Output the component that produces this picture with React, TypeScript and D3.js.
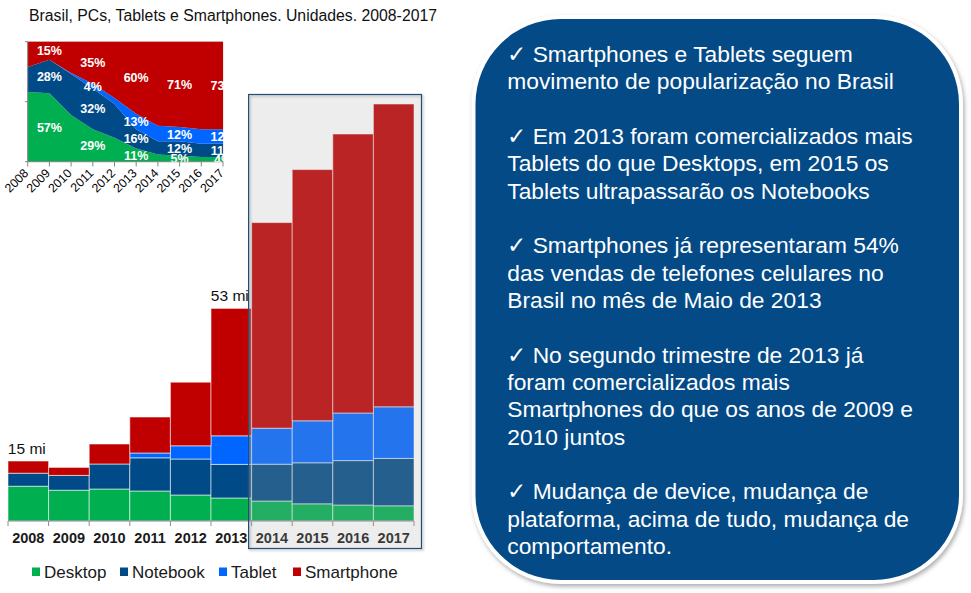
import React from "react";
import * as d3 from "d3";

// ---------- DATA ----------
const years = [2008, 2009, 2010, 2011, 2012, 2013, 2014, 2015, 2016, 2017];
const seriesKeys = ["Desktop", "Notebook", "Tablet", "Smartphone"];
// units, millions
const desktop = [8.7, 7.7, 8, 7.5, 6.5, 5.75, 5, 4.3, 4, 3.8];
const notebook = [3.25, 3.7, 6.25, 8.3, 9, 8.4, 9.2, 10.25, 11.1, 11.85];
const tablet = [0, 0, 0, 1.2, 3.3, 7.15, 9, 10.5, 11.9, 12.9];
const smartphone = [3.05, 2, 5, 9, 15.9, 31.85, 51.4, 62.8, 69.75, 75.7];
const forecastYears = [2014, 2015, 2016, 2017];
const totalLabelYears = [2008, 2013];
const totalLabels = ["15 mi", "53 mi"];

// inset: share (%)
const shareDesktop = [58, 57, 39, 27, 20, 11, 6, 5, 4, 4];
const shareNotebook = [21, 28, 34, 34, 28, 16, 11, 12, 11, 11];
const shareTablet = [0, 0, 1, 4, 5, 13, 13, 12, 12, 12];
const shareSmartphone = [21, 15, 26, 35, 47, 60, 70, 71, 73, 73];
const insetLabelYears = [2009, 2011, 2013, 2015, 2017];
const labelDesktop = ["57%", "29%", "11%", "5%", "4%"];
const labelNotebook = ["28%", "32%", "16%", "12%", "11%"];
const labelTablet = ["", "4%", "13%", "12%", "12%"];
const labelSmartphone = ["15%", "35%", "60%", "71%", "73%"];

const title = "Brasil, PCs, Tablets e Smartphones. Unidades. 2008-2017";
const paragraphs = [
  ["\u2713 Smartphones e Tablets seguem", "movimento de popularização no Brasil"],
  ["\u2713 Em 2013 foram comercializados mais", "Tablets do que Desktops, em 2015 os", "Tablets ultrapassarão os Notebooks"],
  ["\u2713 Smartphones já representaram 54%", "das vendas de telefones celulares no", "Brasil no mês de Maio de 2013"],
  ["\u2713 No segundo trimestre de 2013 já", "foram comercializados mais", "Smartphones do que os anos de 2009 e", "2010 juntos"],
  ["\u2713 Mudança de device, mudança de", "plataforma, acima de tudo, mudança de", "comportamento."],
];

const colors: Record<string, string> = {
  Desktop: "#00b050",
  Notebook: "#004b87",
  Tablet: "#0066ff",
  Smartphone: "#c00000",
};

const FONT = "Arial, 'Liberation Sans', sans-serif";

export default function App() {
  // ---------- main chart ----------
  const table = years.map((yr, i) => ({
    year: yr,
    Desktop: desktop[i],
    Notebook: notebook[i],
    Tablet: tablet[i],
    Smartphone: smartphone[i],
  }));
  const stacked = d3.stack<any>().keys(seriesKeys)(table);
  const x = d3.scaleBand<number>().domain(years).range([8, 414]).padding(0);
  const y = d3.scaleLinear().domain([0, 100]).range([521, 121]);
  const bw = x.bandwidth();
  const tickXs = [...years.map((yr) => x(yr)!), 414];

  // ---------- inset ----------
  const insetTable = years.map((yr, i) => ({
    year: yr,
    Desktop: shareDesktop[i],
    Notebook: shareNotebook[i],
    Tablet: shareTablet[i],
    Smartphone: shareSmartphone[i],
  }));
  const istack = d3.stack<any>().keys(seriesKeys)(insetTable);
  const xi = d3.scaleLinear().domain([2008, 2017]).range([27.7, 223]);
  const yi = d3.scaleLinear().domain([0, 100]).range([161.7, 41.7]);
  const area = d3
    .area<any>()
    .x((d) => xi(d.data.year))
    .y0((d) => yi(d[0]))
    .y1((d) => yi(d[1]));
  const insetLabels: Record<string, string[]> = {
    Desktop: labelDesktop,
    Notebook: labelNotebook,
    Tablet: labelTablet,
    Smartphone: labelSmartphone,
  };

  const fx0 = x(forecastYears[0])! - 3;
  const fx1 = x(forecastYears[forecastYears.length - 1])! + bw + 7.5;

  return (
    <svg
      width={971}
      height={593}
      style={{ position: "absolute", left: 0, top: 0, background: "#fff" }}
      fontFamily={FONT}
    >
      <defs>
        <clipPath id="insetClip">
          <rect x={27.7} y={41.7} width={223 - 27.7 + 1} height={120} />
        </clipPath>
        <filter id="panelShadow" x="-5%" y="-5%" width="110%" height="110%">
          <feDropShadow dx="1.5" dy="2.5" stdDeviation="2" floodColor="#777" floodOpacity="0.6" />
        </filter>
        <filter id="blur1" x="-5%" y="-5%" width="110%" height="110%">
          <feGaussianBlur stdDeviation="1" />
        </filter>
      </defs>

      {/* title */}
      <text x={29} y={21} fontSize={15.8} fill="#111">
        {title}
      </text>

      {/* inset area chart */}
      <g>
        <rect x={27.7} y={41.7} width={223 - 27.7} height={120} fill="#fff" stroke="#d9d9d9" strokeWidth={1} />
        {istack.map((s) => (
          <path key={s.key} d={area(s as any) || ""} fill={colors[s.key]} />
        ))}
        <line x1={27.7} x2={223} y1={161.7} y2={161.7} stroke="#868686" />
        <line x1={27.7} x2={27.7} y1={41.7} y2={161.7} stroke="#868686" />
        {[0, 50, 100].map((v) => (
          <line key={v} x1={25} x2={27.7} y1={yi(v)} y2={yi(v)} stroke="#868686" />
        ))}
        {years.map((yr) => (
          <line key={yr} x1={xi(yr)} x2={xi(yr)} y1={161.7} y2={166.5} stroke="#868686" />
        ))}
        <g clipPath="url(#insetClip)">
          {istack.map((s) =>
            insetLabelYears.map((ly, j) => {
              const txt = insetLabels[s.key][j];
              if (!txt) return null;
              const idx = years.indexOf(ly);
              const d = s[idx];
              const cy = yi((d[0] + d[1]) / 2);
              return (
                <text
                  key={s.key + ly}
                  x={xi(ly)}
                  y={cy}
                  dy="0.36em"
                  textAnchor="middle"
                  fontSize={12.5}
                  fontWeight="bold"
                  fill="#fff"
                >
                  {txt}
                </text>
              );
            })
          )}
        </g>
        {years.map((yr) => (
          <text
            key={yr}
            transform={`translate(${xi(yr) + 1.5},${174}) rotate(-45)`}
            textAnchor="end"
            fontSize={12.3}
            fill="#000"
          >
            {yr}
          </text>
        ))}
      </g>

      {/* main stacked bars */}
      <g>
        {stacked.map((s) =>
          s.map((d, i) => {
            const h = y(d[0]) - y(d[1]);
            if (h <= 0.01) return null;
            return (
              <rect
                key={s.key + years[i]}
                x={x(years[i])}
                y={y(d[1])}
                width={bw}
                height={h}
                fill={colors[s.key]}
                stroke="#ffffff"
                strokeOpacity={0.55}
                strokeWidth={1}
              />
            );
          })
        )}
        <line x1={8} x2={414} y1={521} y2={521} stroke="#8c8c8c" />
        {tickXs.map((tx, i) => (
          <line key={i} x1={tx} x2={tx} y1={521} y2={526} stroke="#8c8c8c" />
        ))}
        {years.map((yr) => (
          <text
            key={yr}
            x={x(yr)! + bw / 2}
            y={543}
            textAnchor="middle"
            fontSize={14.5}
            fontWeight="bold"
            fill="#1a1a1a"
          >
            {yr}
          </text>
        ))}
        {totalLabelYears.map((ly, j) => {
          const i = years.indexOf(ly);
          const total = desktop[i] + notebook[i] + tablet[i] + smartphone[i];
          return (
            <text key={ly} x={x(ly)! + bw / 2 - 1.5} y={y(total) - 7} textAnchor="middle" fontSize={15.5} fill="#111">
              {totalLabels[j]}
            </text>
          );
        })}
        {/* forecast overlay: soft shadow, then translucent box */}
        <rect
          x={fx0 + 1.5}
          y={94.5 + 1.5}
          width={fx1 - fx0}
          height={454}
          fill="none"
          stroke="#9a9a9a"
          strokeWidth={1.5}
          strokeOpacity={0.6}
          filter="url(#blur1)"
        />
        <rect
          x={fx0}
          y={94.5}
          width={fx1 - fx0}
          height={454}
          fill="rgb(168,168,168)"
          fillOpacity={0.21}
          stroke="#1f4e79"
          strokeWidth={1.2}
        />
      </g>

      {/* legend */}
      <g>
        {seriesKeys.map((k, i) => {
          const lx = [32, 120, 219, 293][i];
          return (
            <g key={k}>
              <rect x={lx} y={567.5} width={8} height={8.5} fill={colors[k]} />
              <text x={lx + 12} y={577.5} fontSize={17} fill="#1a1a1a">
                {k}
              </text>
            </g>
          );
        })}
      </g>

      {/* right panel */}
      <g>
        <rect x={471.5} y={15} width={491.5} height={569} rx={89} ry={89} fill="#fff" filter="url(#panelShadow)" />
        <rect x={475.5} y={19} width={483.5} height={561} rx={85} ry={85} fill="#034a86" />
        {(() => {
          let line = 0;
          const out: JSX.Element[] = [];
          paragraphs.forEach((p, pi) => {
            p.forEach((t, li) => {
              out.push(
                <text key={pi + "-" + li} x={507.3} y={62 + 27.33 * line} fontSize={22.8} fill="#fff">
                  {t}
                </text>
              );
              line++;
            });
            line++;
          });
          return out;
        })()}
      </g>
    </svg>
  );
}
